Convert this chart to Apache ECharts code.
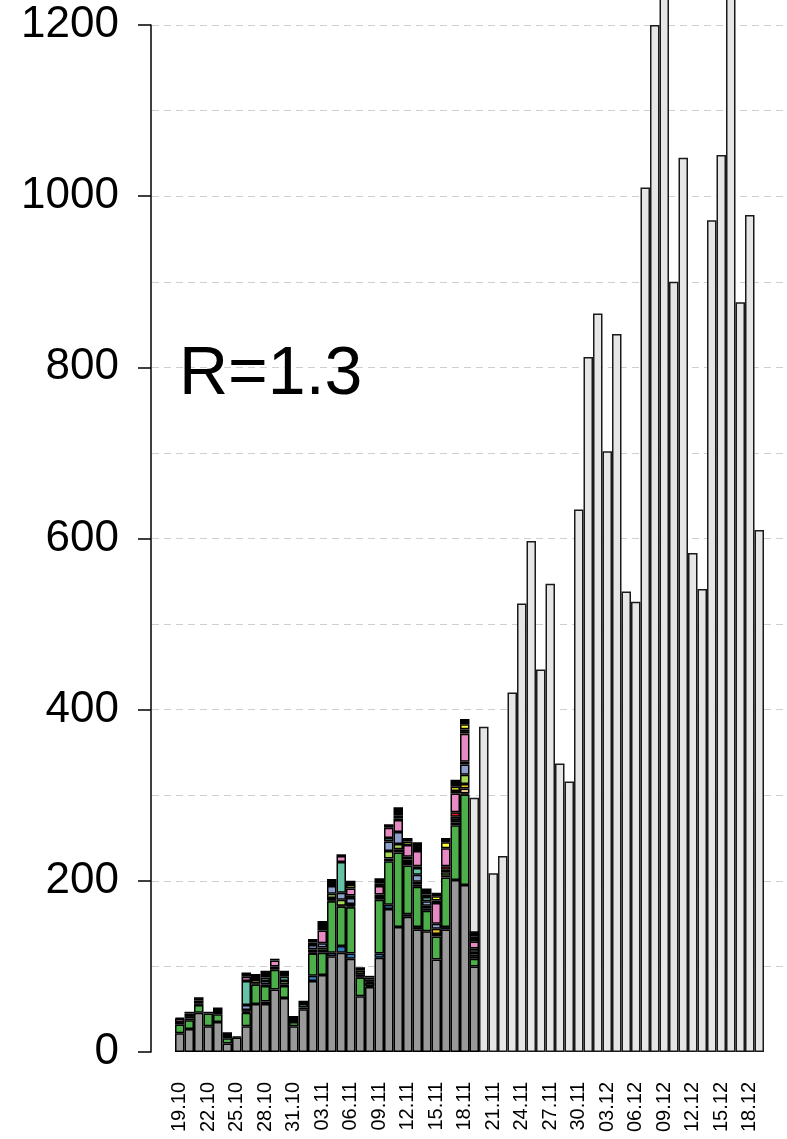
<!DOCTYPE html>
<html>
<head>
<meta charset="utf-8">
<script src="https://cdn.jsdelivr.net/npm/echarts@6/dist/echarts.min.js"></script>
<style>
html,body{margin:0;padding:0;background:#fff;}
#chart{width:787px;height:1139px;}
</style>
</head>
<body>
<div id="chart"></div>
<script>
// Dates 19.10 .. 19.12 (one bar per day)
const dates = ["19.10","20.10","21.10","22.10","23.10","24.10","25.10","26.10","27.10","28.10","29.10","30.10","31.10",
"01.11","02.11","03.11","04.11","05.11","06.11","07.11","08.11","09.11","10.11","11.11","12.11","13.11","14.11","15.11","16.11","17.11","18.11","19.11","20.11","21.11","22.11","23.11","24.11","25.11","26.11","27.11","28.11","29.11","30.11",
"01.12","02.12","03.12","04.12","05.12","06.12","07.12","08.12","09.12","10.12","11.12","12.12","13.12","14.12","15.12","16.12","17.12","18.12","19.12"];

// Reported totals (light grey), from 19.11 onwards
const reportedFrom = "19.11";
const reported = [297,380,209,229,420,524,597,447,547,337,316,634,812,863,702,839,538,526,1010,1200,1320,900,1045,583,541,972,1048,1290,876,978,610];

// Sequenced lineages (stacked), 19.10 .. 19.11
const lGrey      = [22,27,46,30,35,10,17,30,56,56,73,63,30,50,83,90,112,116,109,65,76,110,167,146,158,143,141,108,143,201,195,100];
const lBlue      = [0,0,0,0,0,0,0,0,0,3,0,0,0,0,6,0,4,8,6,0,1,5,5,0,3,3,0,0,3,0,0,0];
const lGreen     = [10,10,9,15,9,6,0,16,23,18,23,14,5,0,26,26,60,46,54,22,4,63,51,87,57,47,24,27,58,64,106,9];
const lBlack1    = [3,2,2,0,0,0,0,1,1,2,4,2,0,2,1,2,1,1,1,1,1,6,3,4,4,3,3,3,2,3,1,3];
const lTan       = [0,0,0,0,0,0,0,0,0,0,0,0,0,0,0,2,3,0,3,3,0,0,0,0,0,0,3,0,0,0,6,2];
const lGold      = [0,0,3,0,0,0,0,2,4,0,0,0,0,0,2,0,0,0,0,0,0,0,0,0,0,0,0,6,0,0,5,3];
const lLightGreen= [0,0,0,0,0,0,0,0,0,0,0,4,0,0,2,2,5,7,0,0,0,0,9,6,0,3,0,0,4,0,11,0];
const lPeriwinkle= [0,3,0,0,0,0,0,6,0,4,0,0,0,0,5,5,9,8,7,0,3,0,11,14,3,8,5,6,3,3,12,4];
const lTeal      = [0,0,0,0,0,0,0,28,0,4,0,5,0,4,0,0,0,36,0,0,0,0,4,0,0,8,5,0,0,4,0,0];
const lRed       = [0,3,0,0,0,0,0,0,0,0,0,0,0,0,0,0,0,0,3,0,0,0,0,0,3,2,0,0,4,5,3,0];
const lPink      = [4,0,0,0,0,0,0,5,0,0,7,0,0,0,3,15,0,7,8,0,2,10,12,14,14,18,3,24,21,22,33,8];
const lOrange    = [0,0,0,0,0,0,0,0,0,0,0,0,0,0,0,0,0,0,0,0,0,0,0,2,0,0,0,0,0,0,2,3];
const lBrown     = [0,0,2,0,0,0,0,0,0,0,0,0,0,0,0,0,0,0,0,0,0,3,0,3,0,0,0,3,0,3,3,0];
const lYellow    = [0,0,0,0,0,0,0,0,0,0,0,0,0,0,0,0,0,0,4,4,0,0,0,0,4,0,0,5,7,5,6,3];
const lBlack2    = [1,2,2,2,8,7,1,5,7,8,2,7,7,4,4,11,8,2,5,4,2,6,4,10,4,10,7,4,5,8,6,6];

const lineages = [
  {name:'grey', data:lGrey, color:'#999999'},
  {name:'blue', data:lBlue, color:'#377EB8'},
  {name:'green', data:lGreen, color:'#4DAF4A'},
  {name:'black1', data:lBlack1, color:'#000000'},
  {name:'tan', data:lTan, color:'#E5C494'},
  {name:'gold', data:lGold, color:'#E6C12A'},
  {name:'lightgreen', data:lLightGreen, color:'#A6D854'},
  {name:'periwinkle', data:lPeriwinkle, color:'#8DA0CB'},
  {name:'teal', data:lTeal, color:'#66C2A5'},
  {name:'red', data:lRed, color:'#E41A1C'},
  {name:'pink', data:lPink, color:'#E78AC3'},
  {name:'orange', data:lOrange, color:'#FC8D62'},
  {name:'brown', data:lBrown, color:'#A65628'},
  {name:'yellow', data:lYellow, color:'#FFFF33'},
  {name:'black2', data:lBlack2, color:'#000000'}
];

const startIdx = dates.indexOf(reportedFrom);
const reportedData = dates.map((d,i) => i >= startIdx ? reported[i - startIdx] : null);

const series = [{
  name:'reported', type:'bar', xAxisIndex:0, yAxisIndex:0,
  data: reportedData, clip:false,
  barGap:'-100%', barCategoryGap:'0%',
  itemStyle:{color:'#E6E6E6', borderColor:'#1a1a1a', borderWidth:1.5}
}];
lineages.forEach(l => {
  series.push({
    name:l.name, type:'bar', stack:'seq', xAxisIndex:0, yAxisIndex:0,
    data: dates.map((d,i) => (i < l.data.length && l.data[i]) ? l.data[i] : null),
    barGap:'-100%', barCategoryGap:'0%',
    itemStyle:{color:l.color, borderColor:'#000000', borderWidth:1.5}
  });
});

const chart = echarts.init(document.getElementById('chart'), null, {renderer:'canvas'});
chart.setOption({
  animation:false,
  backgroundColor:'#ffffff',
  textStyle:{fontFamily:'Liberation Sans, Arial, sans-serif'},
  title:{text:'R=1.3', left:174, top:336,
    textStyle:{fontSize:68, fontWeight:'normal', color:'#000', fontFamily:'Liberation Sans, Arial, sans-serif'}},
  grid:[
    {left:175, right:23, top:25, bottom:87},
    {left:152, right:4, top:25, bottom:87}
  ],
  xAxis:[
    {type:'category', gridIndex:0, data:dates,
     axisLine:{show:false}, axisTick:{show:false},
     axisLabel:{interval:2, rotate:90, fontSize:20, color:'#000', margin:30}},
    {type:'value', gridIndex:1, min:0, max:1, show:false}
  ],
  yAxis:[
    {type:'value', gridIndex:0, min:0, max:1200, interval:200, offset:24,
     axisLine:{show:true, lineStyle:{color:'#000', width:1.5}},
     axisTick:{show:true, length:13, lineStyle:{color:'#000', width:1.5}},
     axisLabel:{fontSize:44, color:'#000', margin:32, formatter: v => String(v)},
     splitLine:{show:false}},
    {type:'value', gridIndex:1, min:0, max:1200, interval:100,
     axisLine:{show:false}, axisTick:{show:false}, axisLabel:{show:false},
     splitLine:{show:true, showMinLine:false, lineStyle:{color:'#CFCFCF', type:[7,5], width:1}}}
  ],
  series: series
});
</script>
</body>
</html>
